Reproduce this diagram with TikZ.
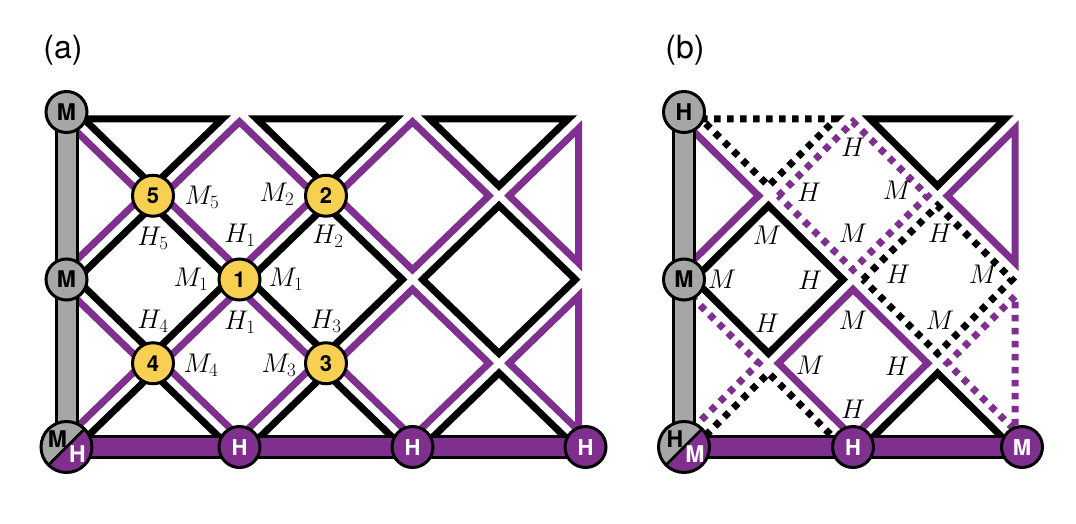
\RequirePackage{fix-cm}
\documentclass[tikz,border=0pt]{standalone}
\usepackage{fontspec}
\newfontfamily\hv{TeX Gyre Heros}
\usetikzlibrary{calc}
\definecolor{pur}{RGB}{127,48,142}
\definecolor{yel}{RGB}{247,208,82}
\definecolor{gry}{RGB}{166,166,166}
\newcommand\PanelSet[2]{%
  \pgfmathsetmacro\Xo{#1}\pgfmathsetmacro\DX{#2}%
  \pgfmathsetmacro\LL{sqrt(\DX*\DX+\DY*\DY)}%
  \pgfmathsetmacro\AP{\DX-\DD*\LL/\DY}%
  \pgfmathsetmacro\BP{\DY-\DD*\LL/\DX}%
  \pgfmathsetmacro\CT{\DD*(\LL+\DX)/\DY}%
  \pgfmathsetmacro\CS{\DD*(\LL+\DY)/\DX}}
\newcommand\cellD[3]{%
  \pgfmathsetmacro\CX{\Xo+\DX*#1}\pgfmathsetmacro\CY{\Yo+\DY*#2}%
  \draw[#3] (\CX-\AP,\CY) -- (\CX,\CY-\BP) -- (\CX+\AP,\CY) -- (\CX,\CY+\BP) -- cycle;}
\newcommand\cellT[2]{%
  \pgfmathsetmacro\CX{\Xo+\DX*#1}%
  \draw[#2] (\CX-\DX+\CT,\Yo+\DD) -- (\CX+\DX-\CT,\Yo+\DD) -- (\CX,\Yo+\BP) -- cycle;}
\newcommand\cellB[2]{%
  \pgfmathsetmacro\CX{\Xo+\DX*#1}\pgfmathsetmacro\YB{\Yo+4*\DY}%
  \draw[#2] (\CX-\DX+\CT,\YB-\DD) -- (\CX+\DX-\CT,\YB-\DD) -- (\CX,\YB-\BP) -- cycle;}
\newcommand\cellL[2]{%
  \pgfmathsetmacro\CY{\Yo+\DY*#1}%
  \draw[#2] (\Xo+\DD,\CY-\DY+\CS) -- (\Xo+\AP,\CY) -- (\Xo+\DD,\CY+\DY-\CS) -- cycle;}
\newcommand\cellR[3]{%
  \pgfmathsetmacro\XR{\Xo+\DX*#1}\pgfmathsetmacro\CY{\Yo+\DY*#2}%
  \draw[#3] (\XR-\DD,\CY-\DY+\CS) -- (\XR-\AP,\CY) -- (\XR-\DD,\CY+\DY-\CS) -- cycle;}
\begin{document}
\begin{tikzpicture}[x=1pt,y=-1pt,line join=miter,
  blk/.style={draw=black,line width=7pt},
  prp/.style={draw=pur,line width=7pt},
  bdot/.style={blk,dash pattern=on 6.5pt off 6.5pt},
  pdot/.style={prp,dash pattern=on 6.5pt off 6.5pt},
  barout/.style={draw=black,line width=24pt},
  gbar/.style={draw=gry,line width=18pt},
  pbar/.style={draw=pur,line width=18pt},
  dot/.style={circle,draw=black,line width=3pt,minimum size=41pt,inner sep=0pt,
    font=\hv\bfseries\fontsize{22}{22}\selectfont},
  yc/.style={dot,fill=yel},
  gc/.style={dot,fill=gry,font=\hv\bfseries\fontsize{23}{23}\selectfont},
  pc/.style={dot,fill=pur,text=white},
  cornerc/.style={circle,minimum size=51pt,inner sep=0pt,draw=black,line width=3pt,fill=gry,
    path picture={\fill[pur] (path picture bounding box.north east) -- (path picture bounding box.south east) -- (path picture bounding box.south west) -- cycle;
      \draw[line width=2.5pt] (path picture bounding box.south west) -- (path picture bounding box.north east);}},
  cl/.style={inner sep=0pt,font=\hv\bfseries\fontsize{23}{23}\selectfont},
  lab/.style={inner sep=0pt,font=\fontsize{27}{28}\selectfont},
  ttl/.style={inner sep=0pt,font=\hv\fontsize{32}{32}\selectfont}
]
\useasboundingbox (0,0) rectangle (1076,524);
\def\Yo{112}\def\DY{83.75}\def\DD{7}
% ---------- panel (a)
\PanelSet{66.5}{86.5}
\cellT{1}{blk}\cellT{3}{blk}\cellT{5}{blk}
\cellL{1}{prp}\cellD{2}{1}{prp}\cellD{4}{1}{prp}\cellR{6}{1}{prp}
\cellD{1}{2}{blk}\cellD{3}{2}{blk}\cellD{5}{2}{blk}
\cellL{3}{prp}\cellD{2}{3}{prp}\cellD{4}{3}{prp}\cellR{6}{3}{prp}
\cellB{1}{blk}\cellB{3}{blk}\cellB{5}{blk}
\coordinate (aT) at (66.5,112);
\coordinate (aM) at (66.5,279.5);
\coordinate (aC) at (66.5,447);
\coordinate (aH1) at (239.5,447);
\coordinate (aH2) at (412.5,447);
\coordinate (aH3) at (585.5,447);
\draw[barout] (aT) -- (aC) -- (aH3);
\draw[gbar] (aT) -- (aC);
\draw[pbar] (aC) -- (aH3);
\node[gc] (nT) at (aT) {M};
\node[gc] (nM) at (aM) {M};
\node[pc] (nH1) at (aH1) {H};
\node[pc] (nH2) at (aH2) {H};
\node[pc] (nH3) at (aH3) {H};
\node[cornerc] (nC) at (aC) {};
\node[cl] (nCM) at ($(aC)+(-9,-8)$) {M};
\node[cl,text=white] (nCH) at ($(aC)+(11,7)$) {H};
\node[yc] (y5) at (153,195.75) {5};
\node[yc] (y2) at (326,195.75) {2};
\node[yc] (y1) at (239.5,279.5) {1};
\node[yc] (y4) at (153,363.25) {4};
\node[yc] (y3) at (326,363.25) {3};
\node[lab] (l1) at (202,197) {$M_5$};
\node[lab] (l2) at (153,238) {$H_5$};
\node[lab] (l3) at (240,235) {$H_1$};
\node[lab] (l4) at (277,194) {$M_2$};
\node[lab] (l5) at (328,236) {$H_2$};
\node[lab] (l6) at (191,279) {$M_1$};
\node[lab] (l7) at (286,279) {$M_1$};
\node[lab] (l8) at (240,322) {$H_1$};
\node[lab] (l9) at (153,321) {$H_4$};
\node[lab] (l10) at (201,365) {$M_4$};
\node[lab] (l11) at (326,321) {$H_3$};
\node[lab] (l12) at (279,365) {$M_3$};
\node[ttl] (ta) at (63,50) {(a)};
% ---------- panel (b)
\PanelSet{684}{84.5}
\cellT{1}{bdot}\cellT{3}{blk}
\cellL{1}{prp}\cellD{2}{1}{pdot}\cellR{4}{1}{prp}
\cellD{1}{2}{blk}\cellD{3}{2}{bdot}
\cellL{3}{pdot}\cellD{2}{3}{prp}\cellR{4}{3}{pdot}
\cellB{1}{bdot}\cellB{3}{blk}
\coordinate (bT) at (684,112);
\coordinate (bM) at (684,279.5);
\coordinate (bC) at (684,447);
\coordinate (bH1) at (853,447);
\coordinate (bH2) at (1022,447);
\draw[barout] (bT) -- (bC) -- (bH2);
\draw[gbar] (bT) -- (bC);
\draw[pbar] (bC) -- (bH2);
\node[gc] (mT) at (bT) {H};
\node[gc] (mM) at (bM) {M};
\node[pc] (mH1) at (bH1) {H};
\node[pc] (mH2) at (bH2) {M};
\node[cornerc] (mC) at (bC) {};
\node[cl] (mCH) at ($(bC)+(-9,-8)$) {H};
\node[cl,text=white] (mCM) at ($(bC)+(11,7)$) {M};
\node[lab] (k1) at (853,147) {$H$};
\node[lab] (k2) at (809,192) {$H$};
\node[lab] (k3) at (897,190) {$M$};
\node[lab] (k4) at (853,233) {$M$};
\node[lab] (k5) at (940,233) {$H$};
\node[lab] (k6) at (898,274) {$H$};
\node[lab] (k7) at (983,274) {$M$};
\node[lab] (k8) at (940,320) {$M$};
\node[lab] (k9) at (767,235) {$M$};
\node[lab] (k10) at (722,279) {$M$};
\node[lab] (k11) at (810,280) {$H$};
\node[lab] (k12) at (767,323) {$H$};
\node[lab] (k13) at (853,320) {$M$};
\node[lab] (k14) at (810,365) {$M$};
\node[lab] (k15) at (897,366) {$H$};
\node[lab] (k16) at (853,409) {$H$};
\node[ttl] (tb) at (685,50) {(b)};
\end{tikzpicture}
\end{document}
